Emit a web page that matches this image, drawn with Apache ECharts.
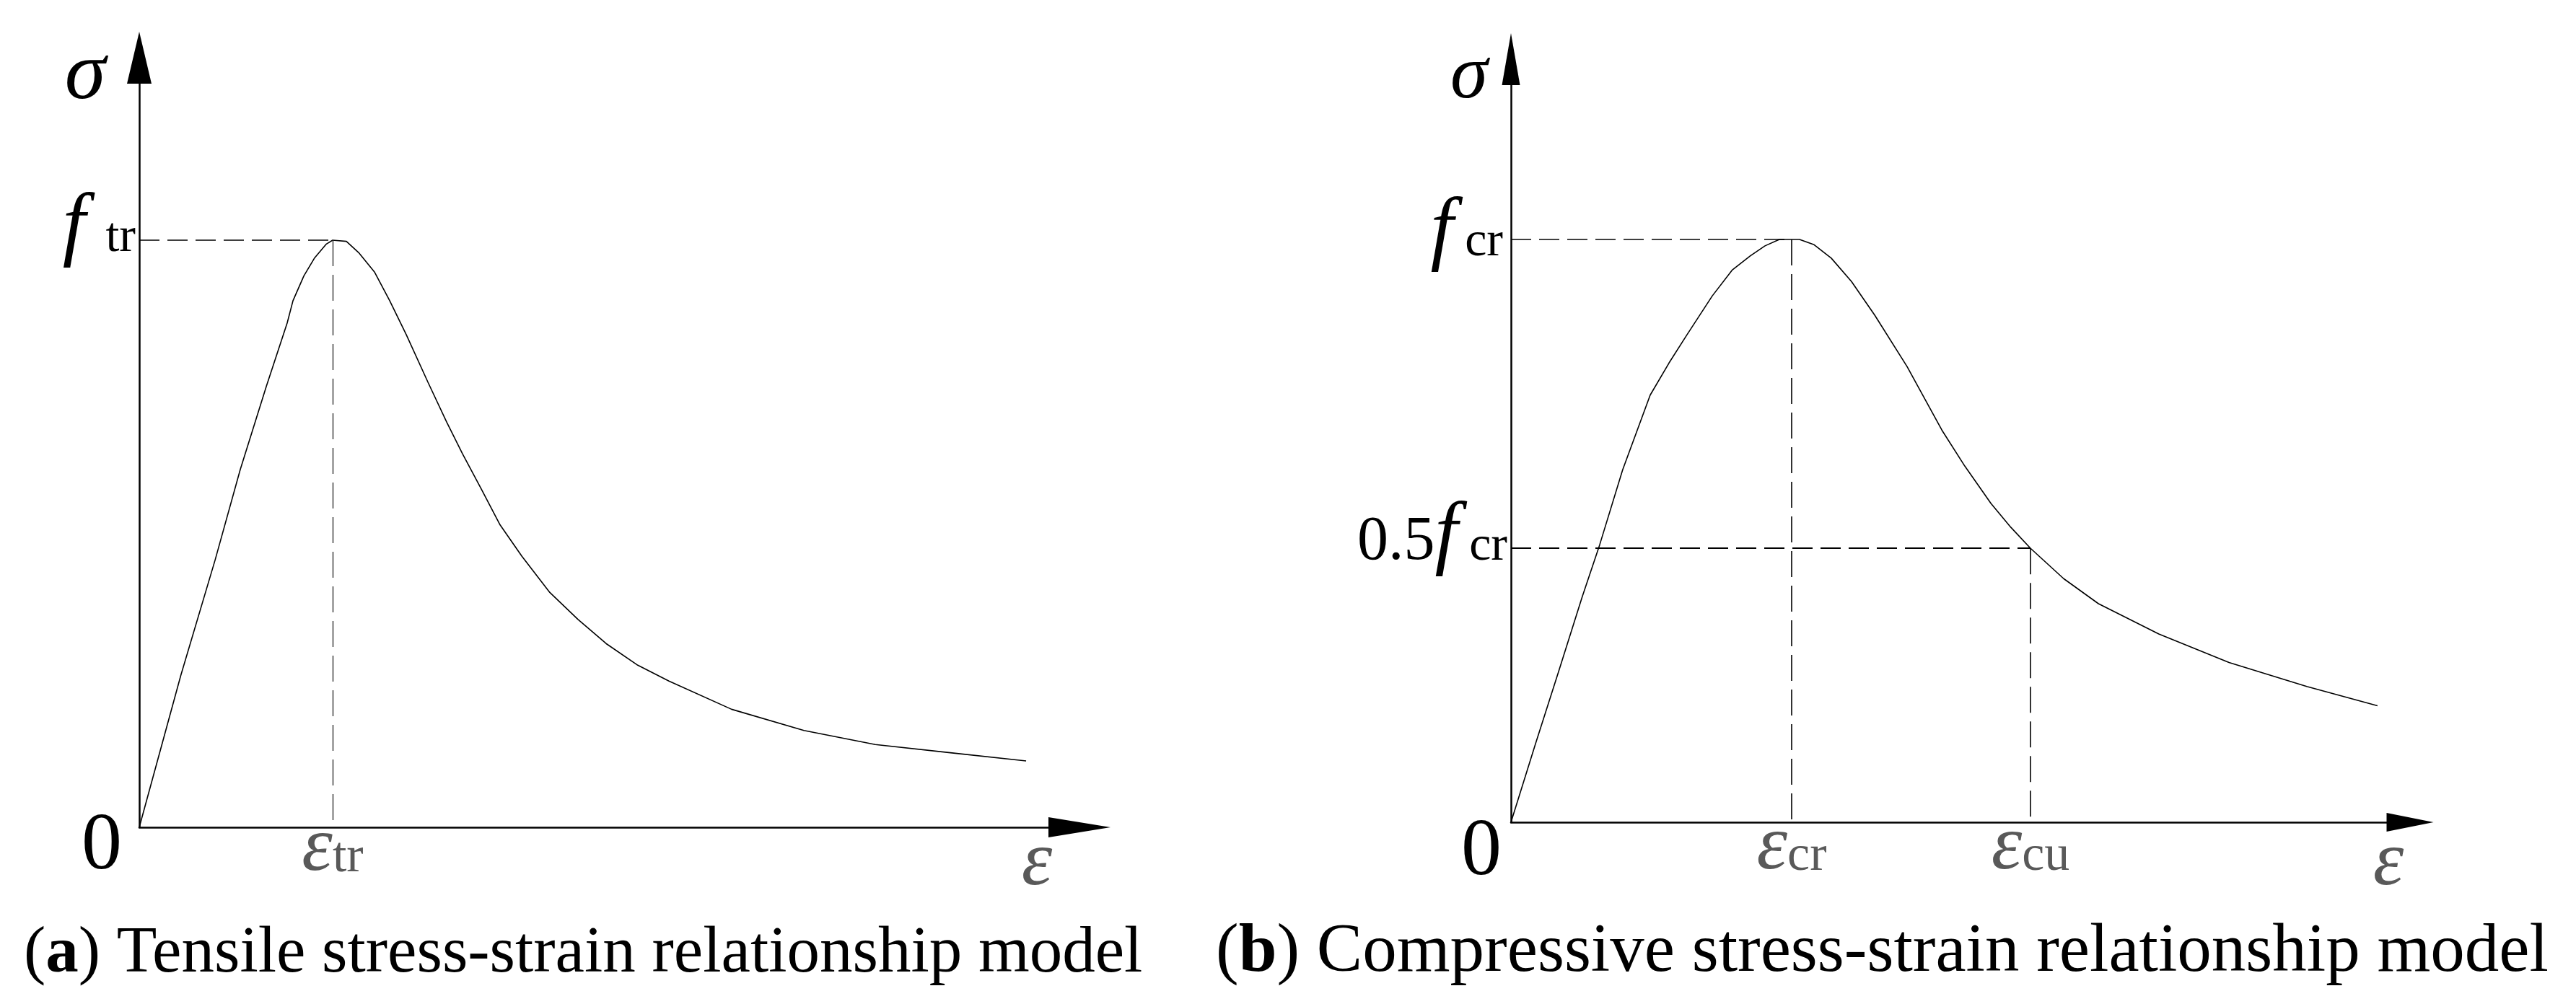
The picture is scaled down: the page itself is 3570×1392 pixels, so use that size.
<!DOCTYPE html>
<html><head><meta charset="utf-8">
<script src="https://cdn.jsdelivr.net/npm/echarts@6/dist/echarts.min.js"></script>
<style>html,body{margin:0;padding:0;background:#fff}#c{width:3570px;height:1392px}</style>
</head><body><div id="c"></div>
<script>
// ---- data (normalised: strain / peak strain, stress / peak stress) ----
const tensileStrain = [0, 0.215, 0.392, 0.522, 0.657, 0.765, 0.795, 0.851, 0.907, 0.966, 1.0, 1.071, 1.134, 1.216, 1.295, 1.381, 1.493, 1.590, 1.672, 1.769, 1.866, 1.978, 2.123, 2.269, 2.414, 2.578, 2.739, 3.063, 3.437, 3.806, 4.194, 4.586];
const tensileStress = [0, 0.259, 0.455, 0.609, 0.751, 0.859, 0.897, 0.939, 0.970, 0.993, 1.0, 0.998, 0.979, 0.946, 0.897, 0.839, 0.758, 0.690, 0.636, 0.576, 0.515, 0.462, 0.400, 0.354, 0.313, 0.276, 0.249, 0.201, 0.165, 0.141, 0.127, 0.113];
const compStrain = [0, 0.087, 0.170, 0.254, 0.316, 0.398, 0.496, 0.563, 0.625, 0.717, 0.789, 0.853, 0.905, 0.956, 1.0, 1.028, 1.080, 1.141, 1.213, 1.296, 1.411, 1.535, 1.617, 1.710, 1.781, 1.851, 1.969, 2.093, 2.308, 2.558, 2.835, 3.087];
const compStress = [0, 0.134, 0.259, 0.387, 0.476, 0.605, 0.733, 0.788, 0.835, 0.903, 0.948, 0.972, 0.989, 1.0, 1.0, 1.0, 0.991, 0.968, 0.928, 0.870, 0.782, 0.673, 0.611, 0.547, 0.506, 0.470, 0.418, 0.375, 0.323, 0.274, 0.233, 0.200];

// reference points (peak and 0.5 f_cr point)
const tensileRefStrain = [1.0];
const tensileRefStress = [1.0];
const compRefStrain = [1.0, 1.851];
const compRefStress = [1.0, 0.470];

// axis extents
const tensileAxisMax = [4.862, 1.3108];   // [strain, stress]
const compAxisMax = [3.203, 1.3094];

// tick labels
const tensileXTicks = [1.0];
const tensileXLabels = [['ε', 'tr']];
const tensileYTicks = [0, 1.0];
const tensileYLabels = ['{zL|0}', '{fL|f}{tL|tr}'];
const compXTicks = [1.0, 1.851];
const compXLabels = [['ε', 'cr'], ['ε', 'cu']];
const compYTicks = [0, 0.470, 1.0];
const compYLabels = ['{zR|0}', '{nR|0.5}{fR5|f}{cR5|cr}', '{fR|f}{cR|cr}'];
const axisNames = ['σ', 'ε'];
const captions = ['({b|a}) Tensile stress-strain relationship model', '({b|b}) Compressive stress-strain relationship model'];

const SERIF = 'Liberation Serif';
const GRAY = '#595959';
function pairs(xs, ys) { return xs.map((x, i) => [x, ys[i]]); }
function pick(ticks, labels, v) {
  let best = 0;
  ticks.forEach((t, i) => { if (Math.abs(t - v) < Math.abs(ticks[best] - v)) best = i; });
  return labels[best];
}
const epsRich = {
  e: { fontFamily: SERIF, fontSize: 108, fontStyle: 'italic', color: GRAY, lineHeight: 60 },
  s: { fontFamily: SERIF, fontSize: 70, color: GRAY, lineHeight: 40, padding: [24, 0, 0, 0] }
};
const yRich = {
  zL: { fontFamily: SERIF, fontSize: 112, color: '#000', lineHeight: 112, padding: [56, 19, 0, 0] },
  fL: { fontFamily: SERIF, fontSize: 114, fontStyle: 'italic', color: '#000', lineHeight: 110, padding: [0, 0, 32, 0] },
  tL: { fontFamily: SERIF, fontSize: 68, color: '#000', lineHeight: 68, padding: [26, 0, 32, 28] },
  zR: { fontFamily: SERIF, fontSize: 112, color: '#000', lineHeight: 112, padding: [86, 8, 0, 0] },
  nR: { fontFamily: SERIF, fontSize: 86, color: '#000', lineHeight: 86, padding: [15, 0, 30, 0] },
  fR5: { fontFamily: SERIF, fontSize: 114, fontStyle: 'italic', color: '#000', lineHeight: 110, padding: [0, 0, 30, 0] },
  cR5: { fontFamily: SERIF, fontSize: 68, color: '#000', lineHeight: 68, padding: [26, 0, 30, 16] },
  fR: { fontFamily: SERIF, fontSize: 114, fontStyle: 'italic', color: '#000', lineHeight: 110, padding: [0, 0, 18, 0] },
  cR: { fontFamily: SERIF, fontSize: 68, color: '#000', lineHeight: 68, padding: [26, 6, 18, 16] }
};
const axisLineBase = { show: true, onZero: false, lineStyle: { color: '#000', width: 2.5 }, symbol: ['none', 'triangle'] };

function xAxisCfg(gi, max, ticks, labels, arrow, margin, nameGap, namePad) {
  return {
    gridIndex: gi, type: 'value', min: 0, max: max,
    axisLine: Object.assign({}, axisLineBase, { symbolSize: arrow }),
    axisTick: { show: false }, splitLine: { show: false },
    axisLabel: {
      customValues: ticks, margin: margin, hideOverlap: false,
      formatter: v => { const l = pick(ticks, labels, v); return '{e|' + l[0] + '}{s|' + l[1] + '}'; },
      rich: epsRich
    },
    name: axisNames[1], nameLocation: 'end', nameGap: nameGap, nameMoveOverlap: false,
    nameTextStyle: { fontFamily: SERIF, fontSize: 108, fontStyle: 'italic', color: GRAY, align: 'center', verticalAlign: 'top', lineHeight: 60, padding: [namePad, 0, 0, 0] }
  };
}
function yAxisCfg(gi, max, ticks, labels, arrow, nameGap, namePad, nameSize) {
  return {
    gridIndex: gi, type: 'value', min: 0, max: max,
    axisLine: Object.assign({}, axisLineBase, { symbolSize: arrow }),
    axisTick: { show: false }, splitLine: { show: false },
    axisLabel: {
      customValues: ticks, margin: 5, hideOverlap: false,
      formatter: v => pick(ticks, labels, v), rich: yRich
    },
    name: axisNames[0], nameLocation: 'end', nameGap: nameGap, nameMoveOverlap: false,
    nameTextStyle: { fontFamily: SERIF, fontSize: nameSize, fontStyle: 'italic', color: '#000', align: 'center', verticalAlign: 'middle', padding: [0, namePad, 0, 0] }
  };
}
const hDash = (w) => ({ color: '#000', width: w, type: [28, 11] });
const vDash = (c, w) => ({ color: c, width: w, type: [36, 12] });

function refLines(xs, ys, vc, vw) {
  const d = [];
  xs.forEach((x, i) => {
    d.push([{ coord: [0, ys[i]], lineStyle: hDash(i === 0 ? 1.6 : 2.2) }, { coord: [x, ys[i]] }]);
    d.push([{ coord: [x, ys[i]], lineStyle: vDash(vc, vw) }, { coord: [x, 0] }]);
  });
  return d;
}

const chart = echarts.init(document.getElementById('c'), null, { renderer: 'canvas' });
chart.setOption({
  animation: false,
  backgroundColor: '#fff',
  title: captions.map((t, i) => {
    const fs = i === 0 ? 91 : 95;
    return {
      text: t, left: i === 0 ? 33 : 1685, top: i === 0 ? 1273 : 1271, padding: 0,
      textStyle: { fontFamily: SERIF, fontSize: fs, fontWeight: 'normal', color: '#000', lineHeight: 100,
        rich: { b: { fontFamily: SERIF, fontSize: fs, fontWeight: 'bold', color: '#000', lineHeight: 100 } } }
    };
  }),
  grid: [
    { left: 193, top: 80, width: 1303, height: 1067, outerBoundsMode: 'none', containLabel: false },
    { left: 2094, top: 82, width: 1246, height: 1058, outerBoundsMode: 'none', containLabel: false }
  ],
  xAxis: [
    xAxisCfg(0, tensileAxisMax[0], tensileXTicks, tensileXLabels, [28, 86], 1, -59, 21),
    xAxisCfg(1, compAxisMax[0], compXTicks, compXLabels, [26, 65], 6, -30, 28)
  ],
  yAxis: [
    yAxisCfg(0, tensileAxisMax[1], tensileYTicks, tensileYLabels, [34, 72], -26, 150, 115),
    yAxisCfg(1, compAxisMax[1], compYTicks, compYLabels, [25, 72], -25, 116, 105)
  ],
  series: [
    { type: 'line', xAxisIndex: 0, yAxisIndex: 0, data: pairs(tensileStrain, tensileStress), showSymbol: false, symbol: 'none', silent: true,
      lineStyle: { color: '#000', width: 1.6 },
      markLine: { silent: true, symbol: ['none', 'none'], label: { show: false }, data: refLines(tensileRefStrain, tensileRefStress, '#333', 1.4) } },
    { type: 'line', xAxisIndex: 1, yAxisIndex: 1, data: pairs(compStrain, compStress), showSymbol: false, symbol: 'none', silent: true,
      lineStyle: { color: '#000', width: 1.6 },
      markLine: { silent: true, symbol: ['none', 'none'], label: { show: false }, data: refLines(compRefStrain, compRefStress, '#000', 1.6) } }
  ]
});
</script></body></html>
